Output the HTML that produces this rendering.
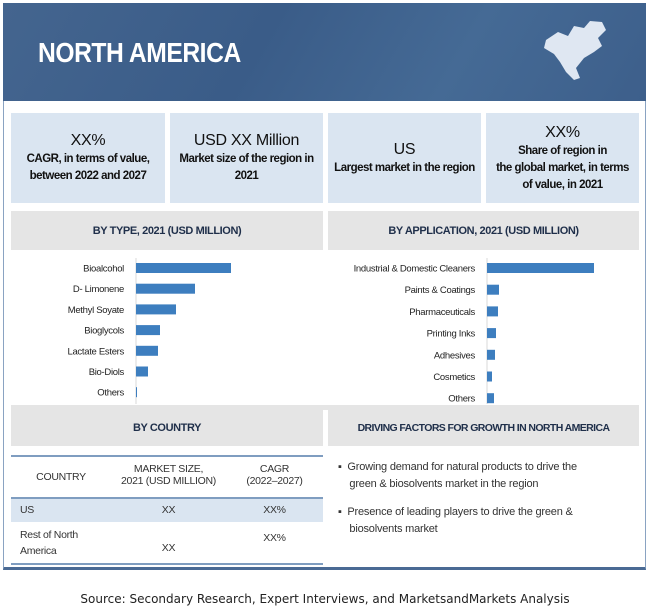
<!DOCTYPE html>
<html><head><meta charset="utf-8"><style>
body{margin:0;width:650px;height:612px;background:#fff;position:relative;font-family:"Liberation Sans",sans-serif;overflow:hidden}
.a{position:absolute}
.kpi{position:absolute;top:113px;height:90px;background:#dae5f1;text-align:center;color:#111;font-size:11.5px;font-weight:bold;display:flex;flex-direction:column;justify-content:center;line-height:17px;letter-spacing:-0.5px}
.kpi .big{font-size:16px;font-weight:normal;line-height:20px;letter-spacing:-0.3px}
.hd{position:absolute;background:#e5e5e5;font-size:11px;font-weight:bold;color:#1f2f4a;display:flex;align-items:center;justify-content:center;letter-spacing:-0.4px;white-space:nowrap}
.td{position:absolute;font-size:10.5px;color:#333;text-align:center;letter-spacing:-0.3px}
</style></head><body>
<div class="a" style="left:3px;top:3px;width:641px;height:563px;border:1px solid #8aa3c2;border-bottom:3px solid #4a6a94;"></div>
<div class="a" style="left:3px;top:3px;width:643px;height:98px;background:linear-gradient(120deg,#44658f 0%,#3a5c88 40%,#456a95 70%,#3d5f8b 100%)"></div>
<div class="a" style="left:38px;top:37px;font-size:28px;font-weight:bold;color:#fff;letter-spacing:-0.5px;transform:scaleX(0.88);transform-origin:left">NORTH AMERICA</div>
<svg class="a" style="left:540px;top:18px" width="80" height="70" viewBox="0 0 80 70"><path d="M6 22 L18 14 L28 18 L34 8 L44 10 L50 3 L62 4 L66 12 L58 20 L62 28 L54 34 L44 40 L36 50 L40 60 L34 62 L26 54 L20 44 L14 36 L4 30 Z" fill="#dfe7f2"/></svg>
<div class="kpi" style="left:11px;width:154px"><div class="big">XX%</div>CAGR, in terms of value,<br>between 2022 and 2027</div>
<div class="kpi" style="left:170px;width:153px"><div class="big">USD XX Million</div>Market size of the region in<br>2021</div>
<div class="kpi" style="left:328px;width:153px"><div class="big">US</div>Largest market in the region</div>
<div class="kpi" style="left:486px;width:153px"><div class="big">XX%</div>Share of region in<br>the global market, in terms<br>of value, in 2021</div>
<div class="hd" style="left:11px;top:211px;width:312px;height:39px">BY TYPE, 2021 (USD MILLION)</div>
<div class="hd" style="left:328px;top:211px;width:311px;height:39px">BY APPLICATION, 2021 (USD MILLION)</div>
<svg class="a" id="chart" style="left:0;top:250px" width="650" height="156"></svg>
<div class="a" style="left:11px;top:405px;width:628px;height:5px;background:#e5e5e5"></div>
<div class="hd" style="left:11px;top:410px;width:312px;height:36px">BY COUNTRY</div>
<div class="hd" style="left:328px;top:410px;width:311px;height:36px;font-size:10.5px;letter-spacing:-0.6px">DRIVING FACTORS FOR GROWTH IN NORTH AMERICA</div>
<div class="a" style="left:11px;top:455px;width:312px;height:106px;border-top:2px solid #7f9dc0;border-bottom:2px solid #7f9dc0">
<div class="a" style="left:0;top:40px;width:312px;height:23px;background:#dae5f1;border-top:2px solid #7f9dc0"></div>
<div class="td" style="left:0;top:14px;width:100px">COUNTRY</div>
<div class="td" style="left:100px;top:6px;width:115px">MARKET SIZE,<br>2021 (USD MILLION)</div>
<div class="td" style="left:215px;top:6px;width:97px">CAGR<br>(2022–2027)</div>
<div class="td" style="left:9px;top:47px;text-align:left">US</div>
<div class="td" style="left:100px;top:47px;width:115px">XX</div>
<div class="td" style="left:215px;top:47px;width:97px">XX%</div>
<div class="td" style="left:9px;top:70px;text-align:left;line-height:16px">Rest of North<br>America</div>
<div class="td" style="left:100px;top:85px;width:115px">XX</div>
<div class="td" style="left:215px;top:75px;width:97px">XX%</div>
</div>
<div class="a" style="left:338px;top:459px;width:300px;font-size:11px;color:#333;line-height:17px;letter-spacing:-0.2px">
<div style="margin-bottom:11px">▪&nbsp; Growing demand for natural products to drive the<br>&nbsp;&nbsp;&nbsp; green &amp; biosolvents market in the region</div>
<div>▪&nbsp; Presence of leading players to drive the green &amp;<br>&nbsp;&nbsp;&nbsp; biosolvents market</div>
</div>
<div class="a" style="left:0;top:592px;width:650px;text-align:center;font-family:'DejaVu Sans','Liberation Sans',sans-serif;font-size:12px;color:#222">Source: Secondary Research, Expert Interviews, and MarketsandMarkets Analysis</div>
<script>
const typeCats=["Bioalcohol","D- Limonene","Methyl Soyate","Bioglycols","Lactate Esters","Bio-Diols","Others"];
const typeVals=[95,59,40,24,22,12,1];
const appCats=["Industrial & Domestic Cleaners","Paints & Coatings","Pharmaceuticals","Printing Inks","Adhesives","Cosmetics","Others"];
const appVals=[107,12,11,9,8,5,7];
const svg=document.getElementById('chart');
const NS='http://www.w3.org/2000/svg';
function draw(cats,vals,x0,y0,step,scale,name){
  const ax=document.createElementNS(NS,'line');
  ax.setAttribute('x1',x0);ax.setAttribute('x2',x0);ax.setAttribute('y1',8);ax.setAttribute('y2',154);
  ax.setAttribute('stroke','#d9d9d9');
  
  
  svg.appendChild(ax);
  cats.forEach((c,i)=>{
    const y=y0+i*step;
    const r=document.createElementNS(NS,'rect');
    r.setAttribute('x',x0);r.setAttribute('y',y-5);r.setAttribute('height',10);
    r.setAttribute('width',Math.max(1,vals[i]*scale));r.setAttribute('fill','#3d7ebf');
    
    
    svg.appendChild(r);
    const t=document.createElementNS(NS,'text');
    t.setAttribute('x',x0-12);t.setAttribute('y',y+3.5);t.setAttribute('text-anchor','end');
    t.setAttribute('font-size','9.5');t.setAttribute('fill','#222');
    t.setAttribute('letter-spacing','-0.3');
    t.setAttribute('font-family','Liberation Sans, sans-serif');
    t.textContent=c;
    
    
    svg.appendChild(t);
  });
}
draw(typeCats,typeVals,136,18,20.7,1,'type');
draw(appCats,appVals,487,18,21.7,1,'application');
</script>
</body></html>
